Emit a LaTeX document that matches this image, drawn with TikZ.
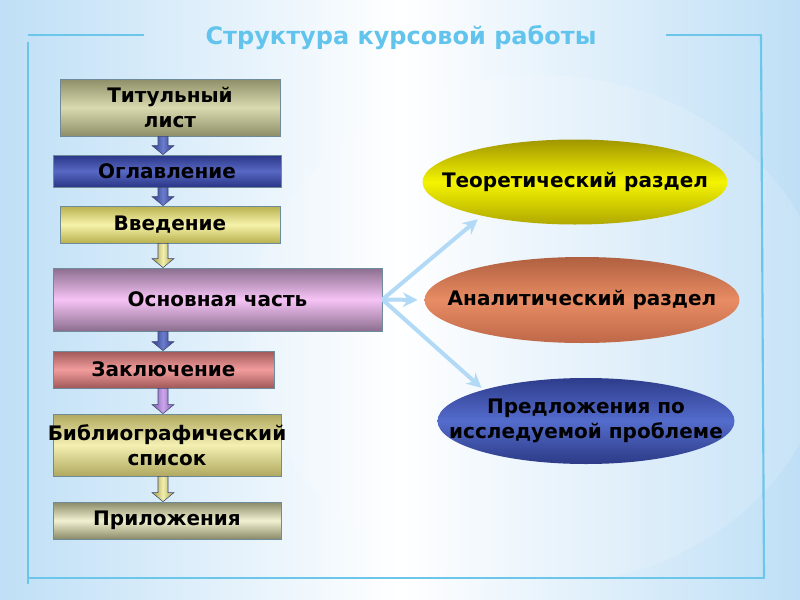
\documentclass[tikz,border=0pt]{standalone}
\usepackage{fontspec}
\setmainfont{DejaVu Sans}
\usetikzlibrary{arrows.meta,shapes.geometric,calc}
\definecolor{bgblue}{HTML}{BFDFF6}
\definecolor{framec}{HTML}{6CC6EA}
\definecolor{titlec}{HTML}{62C4EC}
\definecolor{arrc}{HTML}{B2DAF6}
\definecolor{outl}{HTML}{6F8A98}
\definecolor{arrout}{HTML}{3A4470}
\definecolor{blueE}{HTML}{2E3E8A}
\definecolor{blueM}{HTML}{6C7CCC}
\definecolor{yelE}{HTML}{A09840}
\definecolor{yelM}{HTML}{F2F0B0}
\definecolor{purE}{HTML}{7A5AAA}
\definecolor{purM}{HTML}{CCA6EC}
\tikzset{
  boxbase/.style={draw=outl, line width=0.6pt, inner sep=0pt, align=center,
     font=\fontsize{15}{19}\selectfont\bfseries, text=black},
  ellbase/.style={shape=ellipse, inner sep=0pt, font=\fontsize{15}{19}\selectfont\bfseries, text=black},
  framel/.style={draw=framec, line width=1.6pt},
  conn/.style={draw=arrc, line width=3pt, -{Stealth[length=11pt,width=11pt]}},
}
\newcommand\blockarr[4]{%
  \path (#1.south -| ax) coordinate (s) (#2.north -| ax) coordinate (e);
  \draw[draw=arrout, line width=0.4pt, left color=#3, right color=#3, middle color=#4]
    ($(s)+(-5,0)$) -- ($(e)+(-5,-9)$) -- ($(e)+(-11,-9)$) -- (e) -- ($(e)+(11,-9)$)
    -- ($(e)+(5,-9)$) -- ($(s)+(5,0)$) -- cycle;}
\begin{document}
\begin{tikzpicture}[x=0.75pt,y=-0.75pt]
\useasboundingbox (0,0) rectangle (800,600);
% background
\shade[left color=bgblue, right color=bgblue, middle color=white] (0,0) rectangle (800,600);
\begin{scope}
\clip (0,0) rectangle (800,578);
\fill[white, opacity=0.15] (540,330) ellipse (290 and 255);
\end{scope}
% frame
\draw[framel] (28,35) -- (144,35);
\draw[framel] (666,35) -- (762,35);
\draw[framel] (28,42) -- (28,584);
\draw[framel] (28,578) -- (765,578);
\draw[framel] (761,35) -- (764,578);
% title
\node[font=\fontsize{18}{21}\selectfont\bfseries, text=titlec] (title) at (401,38) {Структура курсовой работы};
\coordinate (ax) at (163,0);
% left boxes
\node[boxbase, top color={rgb,255:red,142;green,142;blue,104}, bottom color={rgb,255:red,142;green,142;blue,104}, middle color={rgb,255:red,218;green,218;blue,176}, minimum width=165pt, minimum height=42.75pt] (b1) at (170,107.5) {Титульный\\лист};
\node[boxbase, top color={rgb,255:red,42;green,54;blue,134}, bottom color={rgb,255:red,42;green,54;blue,134}, middle color={rgb,255:red,88;green,104;blue,196}, minimum width=171pt, minimum height=24pt] (b2) at (167,171) {Оглавление};
\node[boxbase, top color={rgb,255:red,184;green,178;blue,80}, bottom color={rgb,255:red,184;green,178;blue,80}, middle color={rgb,255:red,246;green,242;blue,170}, minimum width=165pt, minimum height=27.75pt] (b3) at (170,224.5) {Введение};
\node[boxbase, top color={rgb,255:red,140;green,110;blue,142}, bottom color={rgb,255:red,140;green,110;blue,142}, middle color={rgb,255:red,246;green,196;blue,246}, minimum width=246.75pt, minimum height=47.25pt] (b4) at (217.5,299.5) {Основная часть};
\node[boxbase, top color={rgb,255:red,160;green,88;blue,88}, bottom color={rgb,255:red,160;green,88;blue,88}, middle color={rgb,255:red,242;green,156;blue,156}, minimum width=165.75pt, minimum height=27.75pt] (b5) at (163.5,369.5) {Заключение};
\node[boxbase, top color={rgb,255:red,176;green,168;blue,96}, bottom color={rgb,255:red,176;green,168;blue,96}, middle color={rgb,255:red,244;green,240;blue,178}, minimum width=171pt, minimum height=46.5pt] (b6) at (167,445) {\makebox[0pt]{Библиографический}\\список};
\node[boxbase, top color={rgb,255:red,138;green,138;blue,104}, bottom color={rgb,255:red,138;green,138;blue,104}, middle color={rgb,255:red,242;green,242;blue,210}, minimum width=171pt, minimum height=27.75pt] (b7) at (167,520.5) {Приложения};
% block arrows
\blockarr{b1}{b2}{blueE}{blueM}
\blockarr{b2}{b3}{blueE}{blueM}
\blockarr{b3}{b4}{yelE}{yelM}
\blockarr{b4}{b5}{blueE}{blueM}
\blockarr{b5}{b6}{purE}{purM}
\blockarr{b6}{b7}{yelE}{yelM}
% ellipses
\node[ellbase, top color={rgb,255:red,160;green,150;blue,0}, bottom color={rgb,255:red,176;green,168;blue,0}, middle color={rgb,255:red,244;green,244;blue,0}, minimum width=228.75pt, minimum height=63.75pt] (e1) at (575,182) {\makebox[0pt]{Теоретический раздел}};
\node[ellbase, top color={rgb,255:red,176;green,96;blue,64}, bottom color={rgb,255:red,190;green,104;blue,72}, middle color={rgb,255:red,232;green,140;blue,100}, minimum width=236.25pt, minimum height=64.5pt] (e2) at (582,300) {\makebox[0pt]{Аналитический раздел}};
\node[ellbase, top color={rgb,255:red,46;green,60;blue,140}, bottom color={rgb,255:red,44;green,58;blue,134}, middle color={rgb,255:red,84;green,108;blue,204}, minimum width=222.75pt, minimum height=64.5pt] (e3) at (586,421) {\begin{tabular}{@{}c@{}}\makebox[0pt]{Предложения по}\\\makebox[0pt]{исследуемой проблеме}\end{tabular}};
% connectors
\draw[conn, shorten >=4pt] (b4.east) -- (e1.200);
\draw[conn, shorten >=5pt] (b4.east) -- (e2.west);
\draw[conn, shorten >=2pt] (b4.east) -- (e3.163);
\end{tikzpicture}
\end{document}
